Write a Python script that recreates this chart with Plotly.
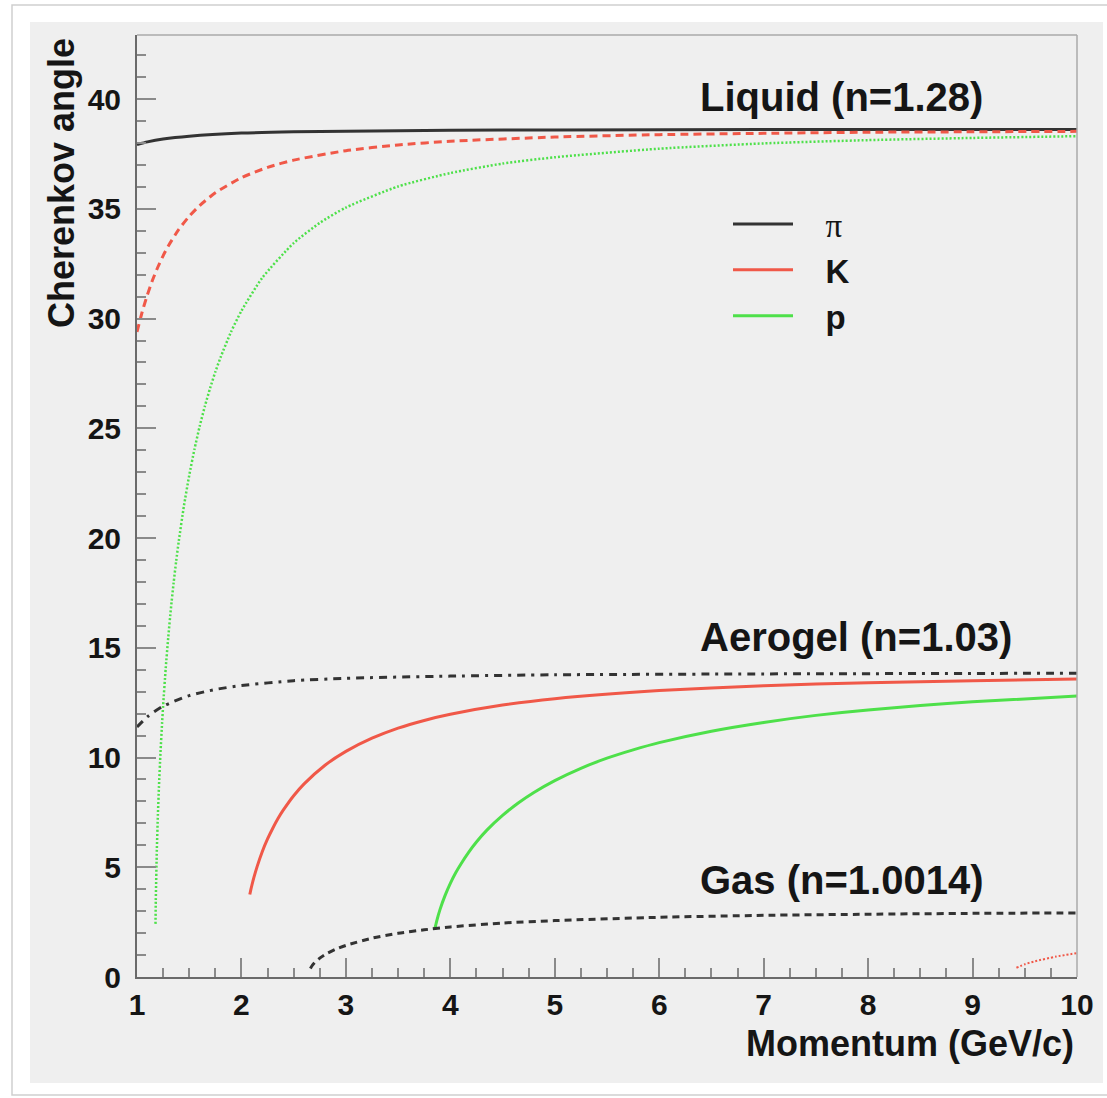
import plotly.graph_objects as go

# ---- data (momentum in GeV/c, angle in degrees) ----
liq_pi_p = [1.0, 1.1, 1.25, 1.5, 2.0, 2.5, 3.0, 4.0, 5.0, 7.0, 10.0]
liq_pi_a = [37.93, 38.05, 38.18, 38.31, 38.45, 38.51, 38.54, 38.58, 38.59, 38.61, 38.62]

liq_k_p = [1.0, 1.05, 1.1, 1.15, 1.2, 1.25, 1.3, 1.4, 1.5, 1.6, 1.75, 2.0, 2.25, 2.5, 3.0, 3.5,
           4.0, 5.0, 6.0, 7.0, 8.0, 9.0, 10.0]
liq_k_a = [29.39, 30.31, 31.09, 31.77, 32.35, 32.86, 33.31, 34.06, 34.66, 35.15, 35.73, 36.42, 36.89,
           37.22, 37.65, 37.91, 38.08, 38.27, 38.38, 38.44, 38.49, 38.51, 38.53]

liq_pr_p = [1.177, 1.18, 1.19, 1.2, 1.21, 1.225, 1.24, 1.25, 1.275, 1.3, 1.325, 1.35, 1.375, 1.4,
            1.45, 1.5, 1.55, 1.6, 1.65, 1.7, 1.75, 1.8, 1.9, 2.0, 2.2, 2.5, 2.75, 3.0, 3.5, 4.0, 4.5,
            5.0, 6.0, 7.0, 8.0, 9.0, 10.0]
liq_pr_a = [2.42, 3.5, 5.8, 7.38, 8.65, 10.23, 11.56, 12.35, 14.07, 15.52, 16.80, 17.93, 18.95, 19.86,
            21.48, 22.85, 24.04, 25.09, 26.01, 26.83, 27.57, 28.23, 29.39, 30.35, 31.86, 33.44, 34.36,
            35.06, 36.02, 36.63, 37.06, 37.35, 37.74, 37.98, 38.13, 38.23, 38.31]

aer_pi_p = [1.0, 1.1, 1.25, 1.5, 1.75, 2.0, 2.5, 3.0, 4.0, 5.0, 7.0, 10.0]
aer_pi_a = [11.39, 11.86, 12.34, 12.82, 13.10, 13.28, 13.50, 13.61, 13.71, 13.77, 13.81, 13.84]

aer_k_p = [2.08, 2.09, 2.1, 2.12, 2.15, 2.2, 2.25, 2.3, 2.35, 2.4, 2.5, 2.6, 2.8, 3.0, 3.25, 3.5,
           3.75, 4.0, 4.5, 5.0, 6.0, 7.0, 8.0, 9.0, 10.0]
aer_k_a = [3.76, 3.98, 4.18, 4.55, 5.03, 5.72, 6.29, 6.78, 7.22, 7.60, 8.26, 8.80, 9.65, 10.28, 10.88,
           11.34, 11.69, 11.97, 12.39, 12.68, 13.05, 13.27, 13.41, 13.50, 13.58]

aer_pr_p = [3.85, 3.87, 3.9, 3.95, 4.0, 4.05, 4.1, 4.175, 4.25, 4.35, 4.5, 4.65, 4.8, 5.0, 5.25, 5.5,
            5.75, 6.0, 6.5, 7.0, 7.5, 8.0, 8.5, 9.0, 10.0]
aer_pr_a = [2.16, 2.56, 3.06, 3.72, 4.27, 4.74, 5.14, 5.68, 6.15, 6.69, 7.36, 7.93, 8.41, 8.95, 9.51,
            9.97, 10.35, 10.68, 11.20, 11.60, 11.92, 12.17, 12.37, 12.54, 12.80]

gas_pi_p = [2.66, 2.68, 2.7, 2.75, 2.8, 2.9, 3.0, 3.25, 3.5, 3.75, 4.0, 4.5, 5.0, 6.0, 7.0, 8.0, 9.0, 10.0]
gas_pi_a = [0.39, 0.54, 0.65, 0.86, 1.02, 1.26, 1.44, 1.77, 1.99, 2.15, 2.28, 2.46, 2.57, 2.72, 2.81,
            2.86, 2.90, 2.92]

gas_k_p = [9.42, 9.5, 9.6, 9.8, 10.0]
gas_k_a = [0.42, 0.58, 0.72, 0.93, 1.09]

x_ticks = [1, 2, 3, 4, 5, 6, 7, 8, 9, 10]
y_ticks = [0, 5, 10, 15, 20, 25, 30, 35, 40]

labels = ["Liquid (n=1.28)", "Aerogel (n=1.03)", "Gas (n=1.0014)"]
label_x = [6.37, 6.37, 6.37]
label_y = [40.1, 15.5, 4.4]

PAD = "\u00a0\u00a0\u00a0"
legend_names = [PAD + '<span style="font-family:\'Liberation Serif\';font-weight:normal">π</span>',
                PAD + "K", PAD + "p"]

BLACK = "#333333"
RED = "#f05848"
GREEN = "#4ee04a"
FONT = "Liberation Sans"
TXT = "#151515"

fig = go.Figure()

def add(x, y, color, width, dash, name=None, rank=None):
    fig.add_trace(go.Scatter(
        x=x, y=y, mode="lines",
        line=dict(color=color, width=width, dash=dash, shape="spline", smoothing=0.6),
        name=name if name else "", showlegend=name is not None,
        legendrank=rank if rank else 1000, hoverinfo="skip"))

# Liquid
add(liq_pi_p, liq_pi_a, BLACK, 3, "solid", legend_names[0], 1)
add(liq_k_p, liq_k_a, RED, 3, "8px,5px")
add(liq_pr_p, liq_pr_a, GREEN, 2.5, "2px,2px")
# Aerogel
add(aer_pi_p, aer_pi_a, BLACK, 3, "8px,6px,3px,6px")
add(aer_k_p, aer_k_a, RED, 3, "solid", legend_names[1], 2)
add(aer_pr_p, aer_pr_a, GREEN, 3, "solid", legend_names[2], 3)
# Gas
add(gas_pi_p, gas_pi_a, BLACK, 3, "7px,5px")
add(gas_k_p, gas_k_a, RED, 2, "2px,2px")

axis_common = dict(
    showgrid=False, zeroline=False, showline=True, linecolor="#6a6a6a", linewidth=2,
    ticks="inside", tickcolor="#8a8a8a", tickwidth=1.5, ticklen=19,
    tickfont=dict(family=FONT, size=30, color=TXT, weight="bold"),
)

fig.update_xaxes(range=[1, 10], tickvals=x_ticks, ticktext=[str(v) for v in x_ticks],
                 minor=dict(dtick=0.25, ticks="inside", ticklen=9, tickcolor="#8a8a8a", tickwidth=1.5,
                            showgrid=False),
                 ticklabelstandoff=0, **axis_common)
fig.update_yaxes(range=[0, 42.92], tickvals=y_ticks, ticktext=[str(v) for v in y_ticks],
                 minor=dict(dtick=1, ticks="inside", ticklen=9, tickcolor="#8a8a8a", tickwidth=1.5,
                            showgrid=False),
                 ticklabelstandoff=8, **axis_common)

# panel background and outer border
W, H = 1107, 1098
L, R, T, B = 137, 30, 35, 121
pw, ph = W - L - R, H - T - B
def px(xp):
    return (xp - L) / pw
def py(yp):
    return (H - B - yp) / ph

fig.add_shape(type="rect", xref="paper", yref="paper", x0=px(12), x1=px(1120), y0=py(1095), y1=py(5),
              line=dict(color="#cfcfcf", width=1.5), fillcolor="white", layer="below")
fig.add_shape(type="rect", xref="paper", yref="paper", x0=px(30), x1=px(1103), y0=py(1083), y1=py(22),
              line=dict(width=0), fillcolor="#efefef", layer="below")
# top / right frame
fig.add_shape(type="line", xref="paper", yref="paper", x0=0, x1=1, y0=1, y1=1,
              line=dict(color="#aaaaaa", width=1.5))
fig.add_shape(type="line", xref="paper", yref="paper", x0=1, x1=1, y0=0, y1=1,
              line=dict(color="#aaaaaa", width=1.5))

for t, xv, yv in zip(labels, label_x, label_y):
    fig.add_annotation(x=xv, y=yv, xref="x", yref="y", text=t, showarrow=False,
                       xanchor="left", yanchor="middle",
                       font=dict(family=FONT, size=40, color=TXT, weight="bold"))

fig.add_annotation(x=px(1076), y=py(1043), xref="paper", yref="paper", text="Momentum (GeV/c)",
                   showarrow=False, xanchor="right", yanchor="middle",
                   font=dict(family=FONT, size=36, color=TXT, weight="bold"))
fig.add_annotation(x=px(61), y=py(36), xref="paper", yref="paper", text="Cherenkov angle",
                   showarrow=False, textangle=-90, xanchor="center", yanchor="top",
                   font=dict(family=FONT, size=36, color=TXT, weight="bold"))

fig.update_layout(
    width=W, height=H, margin=dict(l=L, r=R, t=T, b=B),
    paper_bgcolor="white", plot_bgcolor="#efefef",
    showlegend=True,
    legend=dict(x=px(728), y=py(196), xanchor="left", yanchor="top", bgcolor="rgba(0,0,0,0)",
                borderwidth=0, itemwidth=60, tracegroupgap=0,
                font=dict(family=FONT, size=33, color=TXT, weight="bold")),
)

fig.write_html("out.html")
